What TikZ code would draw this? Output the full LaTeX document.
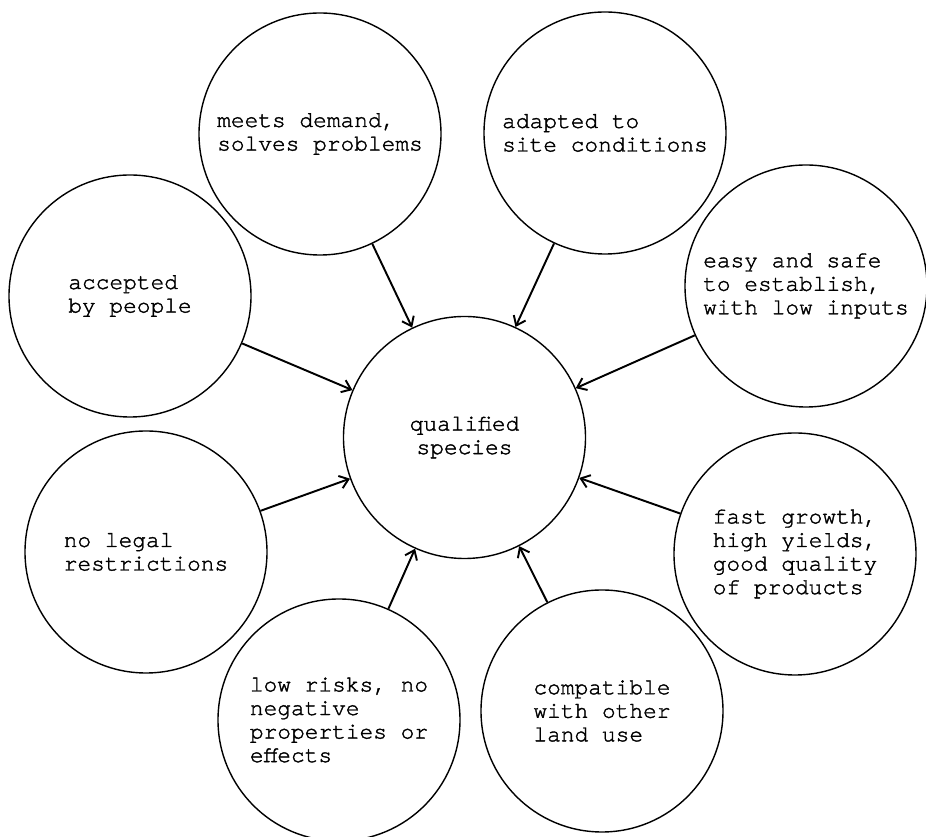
\documentclass[tikz,border=0pt]{standalone}
\usepackage{fontspec}
\setmonofont[FakeBold=1.6]{TeX Gyre Cursor}
\usetikzlibrary{arrows.meta}

\begin{document}
\begin{tikzpicture}[
  crit/.style={draw, circle, thick, minimum size=4.84cm, inner sep=0pt,
    align=left, font=\ttfamily\fontsize{13}{13.4}\selectfont},
  >={Straight Barb[length=1.7mm,width=2.6mm]}]
\useasboundingbox (0,0) rectangle (18.52,16.74);

\node[crit, align=center] (0) at (9.29,7.99) {qualified\\species};

\node[crit] (1) at (6.40,14.06) {meets demand,\\solves problems};
\node[crit] (2) at (12.10,14.08) {adapted to\\site conditions};
\node[crit] (3) at (16.12,11.02) {easy and safe\\to establish,\\with low inputs};
\node[crit] (4) at (15.90,5.66) {fast growth,\\high yields,\\good quality\\of products};
\node[crit] (5) at (12.04,2.52) {compatible\\with other\\land use};
\node[crit] (6) at (6.78,2.34) {low risks, no\\negative\\properties or\\effects};
\node[crit] (7) at (2.92,5.70) {no legal\\restrictions};
\node[crit] (8) at (2.60,10.82) {accepted\\by people};

\foreach \i in {1,...,8}
  \path[draw,line width=1.1pt,->] (\i) -- (0);
\end{tikzpicture}
\end{document}
